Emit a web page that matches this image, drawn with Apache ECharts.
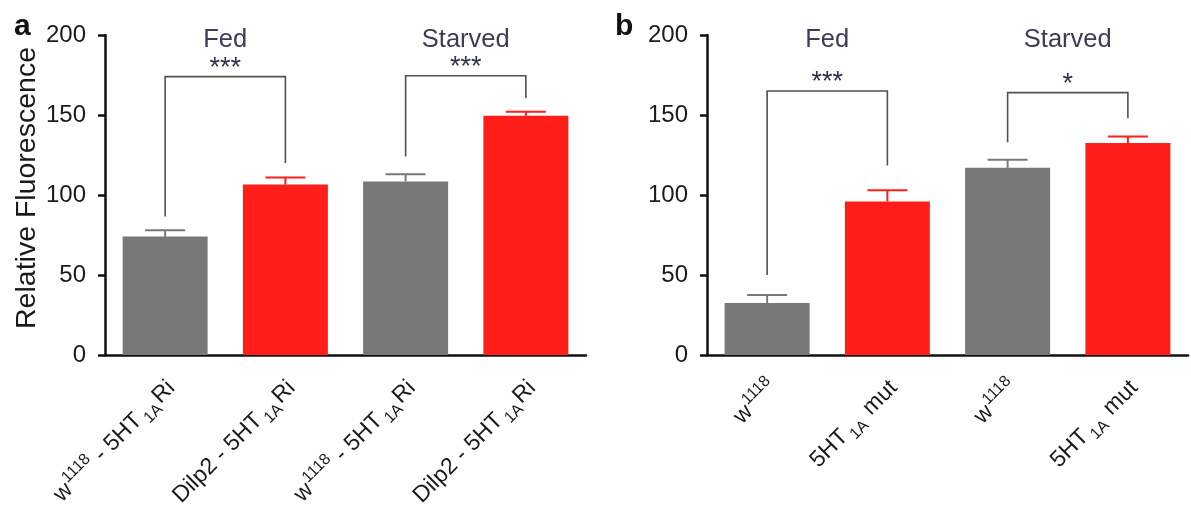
<!DOCTYPE html>
<html>
<head>
<meta charset="utf-8">
<script src="https://cdn.jsdelivr.net/npm/echarts@6/dist/echarts.min.js"></script>
<style>
html,body{margin:0;padding:0;background:#fff;}
#c{width:1191px;height:514px;}
</style>
</head>
<body>
<div id="c"></div>
<script>
// ---- data ----
const categoriesA = ['w^{1118} - 5HT_{1A}Ri', 'Dilp2 - 5HT_{1A}Ri', 'w^{1118} - 5HT_{1A}Ri', 'Dilp2 - 5HT_{1A}Ri'];
const categoriesB = ['w^{1118}', '5HT_{1A} mut', 'w^{1118}', '5HT_{1A} mut'];
const valuesA = [74, 106.5, 108.5, 149.5];
const errorsA = [4, 4.5, 4.5, 2.5];
const valuesB = [32.5, 96, 117, 132.5];
const errorsB = [5, 7, 5, 4];
const barKinds = ['ctrl', 'exp', 'ctrl', 'exp'];
const groupLabels = ['Fed', 'Starved'];
// brackets: [leftIdx, rightIdx, leftBottom, top, rightBottom, stars]
const bracketsA = [[0, 1, 86.5, 174, 120, '***'], [2, 3, 124, 174.5, 160.5, '***']];
const bracketsB = [[0, 1, 50, 165, 118.5, '***'], [2, 3, 133, 164, 148, '*']];
const yTicks = [0, 50, 100, 150, 200];
const yTitle = 'Relative Fluorescence';
const panelLetters = ['a', 'b'];

const GRAY = '#787878', RED = '#ff1e19';
const FONT = "'Liberation Sans', Arial, Helvetica, sans-serif";
const colorOf = k => k === 'ctrl' ? GRAY : RED;

function toRich(s) {
  let out = '';
  const re = /(\^\{[^}]*\}|_\{[^}]*\})/g;
  let last = 0, m;
  while ((m = re.exec(s)) !== null) {
    if (m.index > last) out += '{n|' + s.slice(last, m.index) + '}';
    const inner = m[0].slice(2, -1);
    out += (m[0][0] === '^' ? '{sup|' : '{sub|') + inner + '}';
    last = m.index + m[0].length;
  }
  if (last < s.length) out += '{n|' + s.slice(last) + '}';
  return out;
}

const rich = {
  n: {fontSize: 23, fontFamily: FONT, color: '#1a1a1a', lineHeight: 32, verticalAlign: 'middle'},
  sup: {fontSize: 16, fontFamily: FONT, color: '#1a1a1a', lineHeight: 32, verticalAlign: 'top', padding: [0, 0, 8, 1]},
  sub: {fontSize: 16, fontFamily: FONT, color: '#1a1a1a', lineHeight: 32, verticalAlign: 'bottom', padding: [8, 2, 0, 3]}
};

const grids = [
  {left: 105, top: 35, width: 481, height: 320},
  {left: 707, top: 35, width: 481, height: 320}
];

function xAxisFor(gi, cats) {
  return {
    type: 'category', gridIndex: gi, data: cats,
    axisLine: {lineStyle: {color: '#111', width: 2.5}},
    axisTick: {alignWithLabel: true, length: 6, lineStyle: {color: '#111', width: 2.5}},
    axisLabel: {rotate: 45, margin: 23, padding: [18, 0, 0, 0], interval: 0, formatter: v => toRich(v), rich: rich}
  };
}
function yAxisFor(gi, withName) {
  const ax = {
    type: 'value', gridIndex: gi, min: yTicks[0], max: yTicks[yTicks.length - 1], interval: 50,
    splitLine: {show: false},
    axisLine: {show: true, lineStyle: {color: '#111', width: 2.5}},
    axisTick: {show: true, length: 7, lineStyle: {color: '#111', width: 2.5}},
    axisLabel: {fontSize: 24, fontFamily: FONT, color: '#1a1a1a', margin: 19}
  };
  if (withName) {
    ax.name = yTitle; ax.nameLocation = 'middle'; ax.nameGap = 62;
    ax.nameTextStyle = {fontSize: 28.5, fontFamily: FONT, color: '#1a1a1a', padding: [0, 0, 0, 14]};
  }
  return ax;
}

function barSeries(gi, vals) {
  return {
    type: 'bar', xAxisIndex: gi, yAxisIndex: gi, barWidth: 85, silent: true,
    data: vals.map((v, i) => ({value: v, itemStyle: {color: colorOf(barKinds[i])}})),
    z: 2
  };
}
function errSeries(gi, vals, errs) {
  return {
    type: 'custom', xAxisIndex: gi, yAxisIndex: gi, silent: true, z: 3,
    data: vals.map((v, i) => [i, v, v + errs[i]]),
    renderItem: (params, api) => {
      const i = api.value(0);
      const p0 = api.coord([i, api.value(1)]);
      const p1 = api.coord([i, api.value(2)]);
      const col = colorOf(barKinds[i]);
      const half = 20;
      return {type: 'group', children: [
        {type: 'line', shape: {x1: p0[0], y1: p0[1], x2: p1[0], y2: p1[1]}, style: {stroke: col, lineWidth: 2}},
        {type: 'line', shape: {x1: p1[0] - half, y1: p1[1], x2: p1[0] + half, y2: p1[1]}, style: {stroke: col, lineWidth: 2}}
      ]};
    }
  };
}
function bracketSeries(gi, brs) {
  return {
    type: 'custom', xAxisIndex: gi, yAxisIndex: gi, silent: true, z: 4,
    data: brs.map(b => [b[0], b[1], b[2], b[3], b[4]]),
    renderItem: (params, api) => {
      const l = api.value(0), r = api.value(1);
      const a = api.coord([l, api.value(2)]);
      const b = api.coord([l, api.value(3)]);
      const c = api.coord([r, api.value(3)]);
      const d = api.coord([r, api.value(4)]);
      return {type: 'polyline', shape: {points: [a, b, c, d]}, style: {stroke: '#505050', lineWidth: 1.6, fill: null}};
    }
  };
}
function textSeries(gi, brs) {
  return {
    type: 'custom', xAxisIndex: gi, yAxisIndex: gi, silent: true, z: 5,
    data: brs.map((b, k) => [b[0], b[1], b[3], k]),
    renderItem: (params, api) => {
      const l = api.value(0), r = api.value(1), k = api.value(3);
      const top = api.coord([l, 200]);
      const pl = api.coord([l, api.value(2)]);
      const pr = api.coord([r, api.value(2)]);
      const cx = (pl[0] + pr[0]) / 2;
      return {type: 'group', children: [
        {type: 'text', x: cx, y: top[1] + 5, style: {text: groupLabels[k], fontSize: 25.5, fontFamily: FONT, fill: '#3a3d55', align: 'center', verticalAlign: 'middle'}},
        {type: 'text', x: cx, y: pl[1] - 8, style: {text: brs[k][5], fontSize: 27, fontFamily: FONT, fill: '#2e3150', align: 'center', verticalAlign: 'middle'}}
      ]};
    }
  };
}

const chart = echarts.init(document.getElementById('c'), null, {renderer: 'canvas'});
chart.setOption({
  animation: false,
  backgroundColor: '#ffffff',
  grid: grids,
  xAxis: [xAxisFor(0, categoriesA), xAxisFor(1, categoriesB)],
  yAxis: [yAxisFor(0, true), yAxisFor(1, false)],
  graphic: [
    {type: 'text', left: 14, top: 12, style: {text: panelLetters[0], fontSize: 30, fontWeight: 'bold', fontFamily: FONT, fill: '#111'}},
    {type: 'text', left: 615, top: 12, style: {text: panelLetters[1], fontSize: 30, fontWeight: 'bold', fontFamily: FONT, fill: '#111'}}
  ],
  series: [
    barSeries(0, valuesA), errSeries(0, valuesA, errorsA), bracketSeries(0, bracketsA), textSeries(0, bracketsA),
    barSeries(1, valuesB), errSeries(1, valuesB, errorsB), bracketSeries(1, bracketsB), textSeries(1, bracketsB)
  ]
});
</script>
</body>
</html>
